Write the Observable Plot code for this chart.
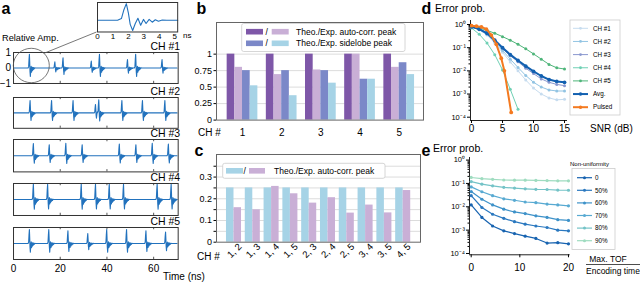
<!DOCTYPE html>
<html><head><meta charset="utf-8">
<script src="https://cdn.jsdelivr.net/npm/d3@7"></script>
<script src="https://cdn.jsdelivr.net/npm/@observablehq/plot@0.6"></script>
<style>
html,body{margin:0;padding:0;background:#fff;}
#root{position:relative;width:640px;height:282px;overflow:hidden;background:#fff;}
</style></head><body><div id="root"></div>
<script>
// ================= DATA =================
// (a) inset pulse shape (ns, relative amplitude)
const insetTime = [0, 1.3, 1.55, 1.7, 1.87, 2.0, 2.12, 2.28, 2.45, 2.62, 2.8, 2.98, 3.15, 3.35, 3.55, 3.75, 3.95, 4.2, 4.5, 5.2];
const insetAmp  = [0, 0, 0.1, 0.6, 1.0, 0.45, -0.25, -0.62, -0.2, 0.12, -0.3, 0.05, -0.2, 0.05, -0.12, 0.03, -0.06, 0.01, 0, 0];
const insetTicks = [0, 1, 2, 3, 4, 5];
const channels = ["CH #1", "CH #2", "CH #3", "CH #4", "CH #5"];
const ch1Times = [6.8, 17.7, 21.2, 33.3, 36.8, 48.8, 52.3, 63.6];
const ch1Amps  = [0.88, 0.4, 0.66, 0.45, 0.88, 0.55, 0.88, 0.55];
const ch2Times = [7.1, 16.3, 25.5, 35.1, 36.5, 46.4, 55.2, 64.8];
const ch2Amps  = [0.8, 0.8, 0.8, 0.55, 0.85, 0.8, 0.8, 0.8];
const ch3Times = [8.5, 15.3, 22.4, 29.4, 45.3, 52.4, 59.4, 66.3];
const ch3Amps  = [0.75, 0.68, 0.77, 0.68, 0.72, 0.68, 0.77, 0.72];
const ch4Times = [8.5, 14.6, 29.0, 35.1, 41.0, 47.1, 61.5, 67.5];
const ch4Amps  = [0.97, 0.95, 0.97, 0.95, 0.95, 0.95, 0.97, 0.95];
const ch5Times = [6.8, 15.1, 23.3, 31.8, 39.9, 48.4, 56.7, 65.1];
const ch5Amps  = [0.87, 0.87, 0.8, 0.62, 0.87, 0.87, 0.8, 0.72];
const timeTicks = [0, 20, 40, 60];
const ampTicks = [1, 0, -1];

// (b)
const bGroups = [1, 2, 3, 4, 5];
const bTheoPeak = [1, 1, 1, 1, 1];
const bExpPeak  = [0.80, 0.69, 0.76, 1.0, 0.80];
const bTheoSide = [0.75, 0.75, 0.75, 0.62, 0.87];
const bExpSide  = [0.52, 0.37, 0.56, 0.62, 0.69];
const bTicks = [0, 0.25, 0.5, 0.75, 1];

// (c)
const cPairs = ["1, 2", "1, 3", "1, 4", "1, 5", "2, 3", "2, 4", "2, 5", "3, 4", "3, 5", "4, 5"];
const cTheo = [0.25, 0.25, 0.25, 0.25, 0.25, 0.25, 0.25, 0.25, 0.25, 0.25];
const cExp  = [0.159, 0.149, 0.257, 0.223, 0.18, 0.205, 0.134, 0.171, 0.135, 0.238];
const cTicks = [0, 0.1, 0.2, 0.3];
const cMinorTicks = [0.05, 0.15, 0.25, 0.35];

// (d)
const snr = [0, 1.25, 2.5, 3.75, 5, 6.25, 7.5, 8.75, 10, 11.25, 12.5, 13.75, 15];
const dCH1 = [0.79, 0.60, 0.35, 0.16, 0.063, 0.024, 0.010, 0.0040, 0.0018, 0.0010, 0.00068, 0.00056, 0.00059];
const dCH2 = [0.79, 0.60, 0.37, 0.18, 0.076, 0.032, 0.014, 0.0063, 0.0032, 0.0020, 0.0015, 0.00135, 0.00135];
const dCH3 = [0.79, 0.63, 0.42, 0.21, 0.095, 0.045, 0.025, 0.013, 0.0076, 0.0045, 0.0032, 0.0026, 0.0023];
const dCH4 = [0.71, 0.38, 0.16, 0.050, 0.011, 0.0016, 0.00022];
const dCH5 = [0.83, 0.71, 0.56, 0.42, 0.30, 0.21, 0.14, 0.089, 0.054, 0.032, 0.019, 0.0135, 0.012];
const dAvg = [0.79, 0.63, 0.42, 0.21, 0.10, 0.050, 0.028, 0.016, 0.0095, 0.006, 0.0042, 0.0035, 0.0032];
const pulsedSnr = [0, 0.8, 1.6, 2.4, 3.2, 4.0, 4.8, 5.3, 6.4];
const dPulsed = [0.89, 0.85, 0.79, 0.63, 0.35, 0.14, 0.035, 0.010, 0.00016];
const dNames = ["CH #1", "CH #2", "CH #3", "CH #4", "CH #5", "Avg.", "Pulsed"];
const snrTicks = [0, 5, 10, 15];
const decadeTicks = [1, 0.1, 0.01, 0.001, 0.0001];

// (e)
const tofRatio = [0, 2.2, 4.4, 6.7, 8.9, 11.1, 13.3, 15.6, 17.8, 20];
const eNU0  = [0.012, 0.0035, 0.0015, 0.00093, 0.00071, 0.00055, 0.00044, 0.00028, 0.00029, 0.00026];
const eNU50 = [0.030, 0.0093, 0.0048, 0.0032, 0.0023, 0.0018, 0.0015, 0.0013, 0.0010, 0.00093];
const eNU60 = [0.045, 0.021, 0.012, 0.0079, 0.006, 0.0051, 0.0041, 0.0035, 0.0028, 0.0026];
const eNU70 = [0.071, 0.044, 0.030, 0.022, 0.019, 0.016, 0.015, 0.013, 0.012, 0.011];
const eNU80 = [0.12, 0.093, 0.079, 0.068, 0.063, 0.059, 0.056, 0.055, 0.052, 0.051];
const eNU90 = [0.18, 0.16, 0.15, 0.14, 0.138, 0.138, 0.135, 0.132, 0.129, 0.129];
const eNames = ["0", "50%", "60%", "70%", "80%", "90%"];
const tofTicks = [0, 10, 20];

// ================= RENDER =================
const FONT = '"Liberation Sans", Arial, Helvetica, sans-serif';
const root = document.getElementById("root");
const INK = "#222";

function plotAt(box, m, opts) {
  const svg = Plot.plot(Object.assign({
    width: box.x1 - box.x0 + m.l + m.r,
    height: box.y1 - box.y0 + m.t + m.b,
    marginTop: m.t, marginRight: m.r, marginBottom: m.b, marginLeft: m.l,
    style: {fontFamily: FONT, fontSize: "10px", background: "transparent", overflow: "visible", color: "#000"}
  }, opts));
  svg.style.position = "absolute";
  svg.style.left = (box.x0 - m.l) + "px";
  svg.style.top = (box.y0 - m.t) + "px";
  root.appendChild(svg);
  return svg;
}

const SUP = {"-": "\u207B", "0": "\u2070", "1": "\u00B9", "2": "\u00B2", "3": "\u00B3", "4": "\u2074"};
const decFmt = d => "10" + String(Math.round(Math.log10(d))).split("").map(c => SUP[c]).join("");
function minorLog(lo, hi) {
  const out = [];
  for (let e = lo; e < hi; e++) for (let k = 2; k <= 9; k++) out.push(k * Math.pow(10, e));
  return out;
}

// ---- (a) ----
const WAVE = "#2272bd";
const pulsePeak = insetTime[insetAmp.indexOf(1.0)];
const tmpl = insetTime.map((t, i) => ({t: t - pulsePeak, v: insetAmp[i]})).filter(d => d.t > -0.6 && d.t < 2.7);
function buildWave(times, amps) {
  const pts = [{t: 0, v: 0}];
  times.forEach((t0, i) => {
    const nextStart = i + 1 < times.length ? times[i + 1] + tmpl[0].t : Infinity;
    tmpl.forEach(p => { if (t0 + p.t < nextStart) pts.push({t: t0 + p.t, v: amps[i] * p.v}); });
  });
  pts.push({t: 70, v: 0});
  return pts;
}
const chTimes = [ch1Times, ch2Times, ch3Times, ch4Times, ch5Times];
const chAmps = [ch1Amps, ch2Amps, ch3Amps, ch4Amps, ch5Amps];
const stripY = [[52, 83], [96.7, 127.5], [139.3, 171.7], [183.3, 215.3], [227.3, 259.3]];
channels.forEach((ch, k) => {
  const marks = [
    Plot.ruleX(timeTicks.slice(1), {y1: -1, y2: -0.86, stroke: "#555"}),
    Plot.ruleX(timeTicks.slice(1), {y1: 0.86, y2: 1, stroke: "#555"}),
    Plot.line(buildWave(chTimes[k], chAmps[k]), {x: "t", y: "v", stroke: WAVE, strokeWidth: 1.1}),
    Plot.frame({stroke: "#333"}),
    Plot.text([ch], {frameAnchor: "top-right", textAnchor: "end", lineAnchor: "bottom", dx: 2, dy: -2, fontSize: 10.5})
  ];
  if (k === 0) marks.push(Plot.axisY(ampTicks, {tickSize: 0, tickPadding: 2.5, fontSize: 10, label: null}));
  if (k === 4) marks.push(Plot.axisX(timeTicks, {tickSize: 0, tickPadding: 5, fontSize: 10, label: null}));
  const xs = {domain: [0, 70.5]}; if (k !== 4) xs.axis = null;
  const ys = {domain: [-1, 1]}; if (k !== 0) ys.axis = null;
  plotAt({x0: 13.3, x1: 178, y0: stripY[k][0], y1: stripY[k][1]}, {t: 14, r: 14, b: k === 4 ? 18 : 2, l: 14}, {x: xs, y: ys, marks});
});
// inset
plotAt({x0: 96.5, x1: 176.7, y0: 2, y1: 31.5}, {t: 2, r: 16, b: 10, l: 2}, {
  x: {domain: [0, 5.2]}, y: {domain: [-0.71, 1.07], axis: null},
  marks: [
    Plot.line(insetTime.map((t, i) => ({t, v: insetAmp[i]})), {x: "t", y: "v", stroke: WAVE, strokeWidth: 1.1}),
    Plot.frame({stroke: "#333"}),
    Plot.axisX(insetTicks, {tickSize: 0, tickPadding: 1.5, fontSize: 8, label: null})
  ]
});

// ---- (b) ----
const bW = 0.196;
const bSeries = [[bTheoPeak, "#7e57a8"], [bExpPeak, "#c9afd6"], [bTheoSide, "#7b88c8"], [bExpSide, "#a6d3e6"]];
plotAt({x0: 216, x1: 423, y0: 21.7, y1: 119.3}, {t: 4, r: 4, b: 22, l: 24}, {
  x: {domain: [0.336, 5.62]}, y: {domain: [0, 1.48]},
  marks: [
    Plot.ruleY(bTicks.filter(d => d > 0), {stroke: "#dcdcdc"}),
    ...bSeries.map(([vals, color], j) => Plot.rectY(bGroups, {
      x1: g => g - 2 * bW + j * bW, x2: g => g - bW + j * bW, y1: 0, y2: (g, i) => vals[i], fill: color})),
    Plot.frame({stroke: "#666"}),
    Plot.axisY(bTicks, {tickSize: 2.5, tickPadding: 2, fontSize: 9, tickFormat: d3.format("~g"), label: null}),
    Plot.axisX(bGroups, {tickSize: 0, tickPadding: 9, fontSize: 10, label: null})
  ]
});

// ---- (c) ----
const cW = 0.4;
const cIdx = cPairs.map((_, i) => i);
plotAt({x0: 216, x1: 420, y0: 154, y1: 241.7}, {t: 4, r: 4, b: 32, l: 24}, {
  x: {domain: [-0.93, 9.92]}, y: {domain: [0, 0.404]},
  marks: [
    Plot.ruleY(cTicks.concat(cMinorTicks).filter(d => d > 0), {stroke: "#dcdcdc"}),
    Plot.rectY(cTheo, {x1: (d, i) => i - cW, x2: (d, i) => i, y1: 0, y2: d => d, fill: "#a6d3e6"}),
    Plot.rectY(cExp, {x1: (d, i) => i, x2: (d, i) => i + cW, y1: 0, y2: d => d, fill: "#c9afd6"}),
    Plot.frame({stroke: "#666"}),
    Plot.axisY(cTicks, {tickSize: 2.5, tickPadding: 2, fontSize: 9, tickFormat: d3.format("~g"), label: null}),
    Plot.axisY(cMinorTicks, {tickSize: 2.5, tickFormat: () => "", label: null}),
    Plot.axisX(cIdx, {tickSize: 0, tickPadding: 3, fontSize: 9.5, tickRotate: -45, tickFormat: i => cPairs[i], dx: 6, label: null})
  ]
});

// ---- (d) ----
const dColors = ["#c6dcef", "#92c4e3", "#8a98cf", "#6fd0b4", "#4fb57a", "#1260b0", "#f47a20"];
const dSeries = [dCH1, dCH2, dCH3, dCH4, dCH5, dAvg, dPulsed];
const dWidths = [1, 1, 1, 1, 1, 2, 2];
const dX = [-0.16, 15.48], dY = [7.2e-5, 1.49];
const dMarks = [];
dSeries.forEach((vals, s) => {
  const xs = s === 6 ? pulsedSnr : snr;
  const pts = vals.map((v, i) => ({x: xs[i], y: v}));
  dMarks.push(Plot.line(pts, {x: "x", y: "y", stroke: dColors[s], strokeWidth: dWidths[s]}));
  dMarks.push(Plot.dot(pts, {x: "x", y: "y", fill: dColors[s], r: s >= 5 ? 1.9 : 1.5}));
});
plotAt({x0: 470, x1: 567, y0: 20, y1: 120}, {t: 4, r: 4, b: 18, l: 24}, {
  x: {domain: dX}, y: {type: "log", domain: dY},
  marks: [
    Plot.ruleX([dX[0]], {stroke: INK}), Plot.ruleY([dY[0]], {stroke: INK}),
    ...dMarks,
    Plot.axisX(snrTicks, {tickSize: 3, tickPadding: 1.5, fontSize: 10, label: null}),
    Plot.axisY(decadeTicks, {tickSize: 3, tickPadding: 1.5, fontSize: 7.5, tickFormat: decFmt, label: null}),
    Plot.axisY(minorLog(-4, 0), {tickSize: 1.5, tickFormat: () => "", label: null})
  ]
});

// ---- (e) ----
const eColors = ["#1763b0", "#2a78bf", "#3e92c9", "#58aad2", "#74c3c7", "#9fdcc0"];
const eSeries = [eNU0, eNU50, eNU60, eNU70, eNU80, eNU90];
const eX = [-0.35, 20.35], eY = [8.8e-5, 1.29];
const eMarks = [];
eSeries.slice().reverse().forEach((vals, r) => {
  const s = eSeries.length - 1 - r;
  const pts = vals.map((v, i) => ({x: tofRatio[i], y: v}));
  eMarks.push(Plot.line(pts, {x: "x", y: "y", stroke: eColors[s], strokeWidth: 1.2}));
  eMarks.push(Plot.dot(pts, {x: "x", y: "y", fill: eColors[s], r: 1.6}));
});
plotAt({x0: 469.3, x1: 570, y0: 156.7, y1: 254}, {t: 4, r: 4, b: 18, l: 24}, {
  x: {domain: eX}, y: {type: "log", domain: eY},
  marks: [
    Plot.ruleX([eX[0]], {stroke: INK}), Plot.ruleY([eY[0]], {stroke: INK}),
    ...eMarks,
    Plot.axisX(tofTicks, {tickSize: 3, tickPadding: 6, fontSize: 10, label: null}),
    Plot.axisY(decadeTicks, {tickSize: 3, tickPadding: 1.5, fontSize: 7.5, tickFormat: decFmt, label: null}),
    Plot.axisY(minorLog(-4, 0), {tickSize: 1.5, tickFormat: () => "", label: null})
  ]
});

// ================= OVERLAY (labels, legends, annotations) =================
const ov = d3.create("svg").attr("width", 640).attr("height", 282)
  .style("position", "absolute").style("left", "0px").style("top", "0px")
  .style("font-family", FONT).style("overflow", "visible");
root.appendChild(ov.node());
function txt(s, x, y, size, opts = {}) {
  return ov.append("text").attr("x", x).attr("y", y).attr("font-size", size)
    .attr("text-anchor", opts.anchor || "start").attr("font-weight", opts.weight || "normal")
    .attr("fill", opts.fill || "#000").text(s);
}
// panel letters
txt("a", 1.5, 14, 16, {weight: "bold"});
txt("b", 196.5, 14, 16, {weight: "bold"});
txt("c", 194.5, 155.5, 16, {weight: "bold"});
txt("d", 421.5, 13.5, 16, {weight: "bold"});
txt("e", 421.5, 155.5, 16, {weight: "bold"});
// (a)
txt("Relative Amp.", 2, 41, 9.2);
txt("ns", 183, 38, 8);
txt("Time (ns)", 163, 280, 10);
ov.append("ellipse").attr("cx", 31.3).attr("cy", 65.5).attr("rx", 18).attr("ry", 17.2)
  .attr("fill", "none").attr("stroke", "#555").attr("stroke-width", 0.8);
ov.append("line").attr("x1", 44).attr("y1", 53.3).attr("x2", 96.5).attr("y2", 32)
  .attr("stroke", "#555").attr("stroke-width", 0.8);
// (b)
txt("CH #", 198, 136, 10);
const bl = ov.append("g");
bl.append("rect").attr("x", 241.7).attr("y", 23.5).attr("width", 163.3).attr("height", 28)
  .attr("rx", 2).attr("fill", "#fff").attr("stroke", "#ccc").attr("stroke-width", 0.8);
[[bSeries[0][1], bSeries[1][1], "Theo./Exp. auto-corr. peak"], [bSeries[2][1], bSeries[3][1], "Theo./Exp. sidelobe peak"]]
  .forEach(([c1, c2, label], r) => {
    const y = 31.7 + r * 11.6;
    bl.append("rect").attr("x", 246).attr("y", y - 2.8).attr("width", 17).attr("height", 5.6).attr("fill", c1);
    txt("/", 265.5, y + 3, 8.5);
    bl.append("rect").attr("x", 271.7).attr("y", y - 2.8).attr("width", 17).attr("height", 5.6).attr("fill", c2);
    txt(label, 296, y + 3, 8.5);
  });
// (c)
txt("CH #", 197, 260, 10);
ov.append("rect").attr("x", 222.7).attr("y", 163.3).attr("width", 162.3).attr("height", 15)
  .attr("rx", 2).attr("fill", "#fff").attr("stroke", "#ccc").attr("stroke-width", 0.8);
ov.append("rect").attr("x", 226).attr("y", 168).attr("width", 17).attr("height", 5.6).attr("fill", "#a6d3e6");
txt("/", 243.5, 174, 8.5);
ov.append("rect").attr("x", 249).attr("y", 168).attr("width", 16).attr("height", 5.6).attr("fill", "#c9afd6");
txt("Theo./Exp. auto-corr. peak", 274, 174, 8.5);
// (d)
txt("Error prob.", 435, 12, 10.5);
txt("SNR (dB)", 590, 132, 10);
ov.append("rect").attr("x", 570).attr("y", 20).attr("width", 50).attr("height", 95)
  .attr("fill", "#fff").attr("stroke", "#ccc").attr("stroke-width", 0.8);
dNames.forEach((name, s) => {
  const y = 28.3 + s * 13.15;
  ov.append("line").attr("x1", 573).attr("x2", 588).attr("y1", y).attr("y2", y)
    .attr("stroke", dColors[s]).attr("stroke-width", dWidths[s]);
  ov.append("circle").attr("cx", 580.5).attr("cy", y).attr("r", s >= 5 ? 1.8 : 1.4).attr("fill", dColors[s]);
  txt(name, 593, y + 2.2, 6.3);
});
// (e)
txt("Error prob.", 433, 152, 10.5);
txt("Non-uniformity", 570, 166, 6);
ov.append("rect").attr("x", 572).attr("y", 168.5).attr("width", 43).attr("height", 81)
  .attr("fill", "#fff").attr("stroke", "#ccc").attr("stroke-width", 0.8);
eNames.forEach((name, s) => {
  const y = 177.7 + s * 12.6;
  ov.append("line").attr("x1", 577).attr("x2", 592).attr("y1", y).attr("y2", y)
    .attr("stroke", eColors[s]).attr("stroke-width", 1.2);
  ov.append("circle").attr("cx", 584.5).attr("cy", y).attr("r", 1.5).attr("fill", eColors[s]);
  txt(name, 595, y + 2.2, 6.3);
});
txt("Max. TOF", 608, 262, 8.5, {anchor: "middle"});
ov.append("line").attr("x1", 586).attr("x2", 640).attr("y1", 264.5).attr("y2", 264.5).attr("stroke", "#000").attr("stroke-width", 0.7);
txt("Encoding time", 586, 274, 8.5);
</script></body></html>
